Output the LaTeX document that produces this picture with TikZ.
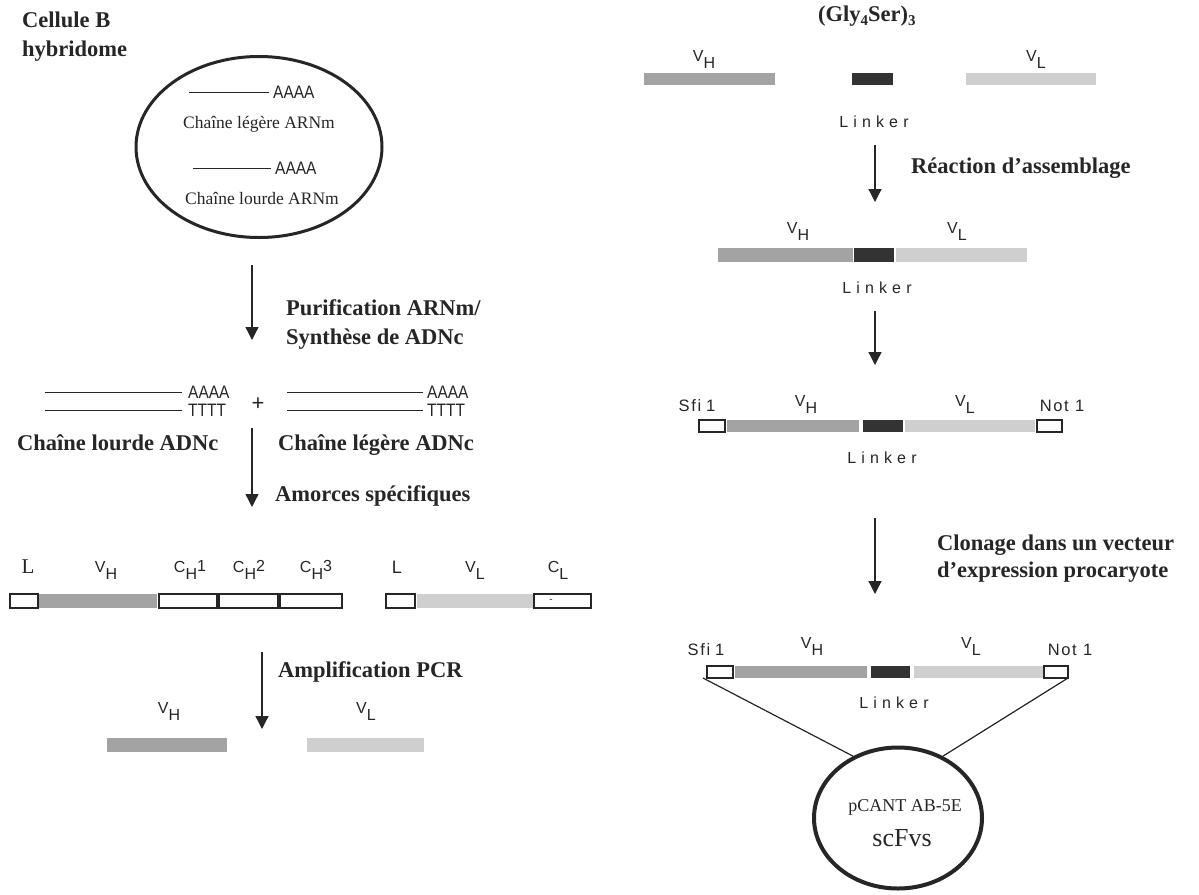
\documentclass[tikz,border=0pt]{standalone}
\usepackage{graphicx}
\usepackage{fontspec}
\setmainfont{Liberation Serif}
\setsansfont{Liberation Sans}
\usetikzlibrary{arrows.meta,shapes.geometric,fit}

\definecolor{vhg}{gray}{0.64}
\definecolor{vlg}{gray}{0.81}
\definecolor{lkg}{gray}{0.20}
\definecolor{ink}{gray}{0.15}

\newcommand\seg[6]{\node[#6,fit={(#2,#3) (#4,#5)},inner sep=0pt,outer sep=0pt] (#1) {};}
\newcommand\Vs[2]{#1\raisebox{-7pt}{#2}}
\newcommand\Cs[2]{C\raisebox{-7pt}{#1}\raisebox{1pt}{#2}}
\newcommand\nar[1]{\scalebox{0.86}[1]{#1}}

\tikzset{
  ttl/.style={font=\fontsize{22.5}{27}\selectfont\bfseries, inner sep=0pt, anchor=base west, text=ink},
  lbl/.style={font=\fontsize{16}{18}\selectfont\sffamily, inner sep=0pt, anchor=base, text=ink},
  ser/.style={font=\fontsize{17.5}{21}\selectfont, inner sep=0pt, anchor=base, text=ink},
  narrow/.style={font=\fontsize{18}{20}\selectfont\sffamily, inner sep=0pt, anchor=base west, text=ink},
  lnk/.style={font={\fontsize{16}{18}\selectfont\sffamily\addfontfeature{LetterSpace=32}}, inner sep=0pt, anchor=base, text=ink},
  site/.style={font={\fontsize{16.5}{18}\selectfont\sffamily\addfontfeature{LetterSpace=10}}, inner sep=0pt, anchor=base, text=ink},
  flow/.style={draw=ink, line width=1.3pt, -{Triangle[width=13pt,length=13pt]}},
  hbar/.style={fill=vhg},
  lbar/.style={fill=vlg},
  kbar/.style={fill=lkg},
  obox/.style={draw=ink, line width=1.2pt, fill=white},
  strand/.style={draw=ink, line width=1pt},
}

\begin{document}
\begin{tikzpicture}[x=1pt,y=-1pt]
\fill[white] (0,0) rectangle (1199,894);
\useasboundingbox (0,0) rectangle (1199,894);

% ---------------- left column ----------------
\node[ttl] (cb1) at (22,27.5) {Cellule B};
\node[ttl] (cb2) at (22,56.5) {hybridome};

\node[ellipse, draw=ink, line width=3pt, minimum width=246pt, minimum height=181pt, inner sep=0pt] (cell) at (259,147) {};
\node[narrow] (a1) at (273,98.5) {\nar{AAAA}};
\draw[strand] ([xshift=-4pt]a1.west) -- ++(-80,0);
\node[ser] (t1) at (259,128) {Chaîne légère ARNm};
\node[narrow] (a2) at (275,174.5) {\nar{AAAA}};
\draw[strand] ([xshift=-4pt]a2.west) -- ++(-78,0);
\node[ser] (t2) at (262,204) {Chaîne lourde ARNm};

\coordinate (p1s) at (252,265);
\coordinate (p1e) at (252,340);
\draw[flow] (p1s) -- (p1e);
\node[ttl] (lp1) at (286,315) {Purification ARNm/};
\node[ttl] (lp2) at (286,344) {Synthèse de ADNc};

% cDNA strands
\node[narrow] (ha) at (188,398.5) {\nar{AAAA}};
\node[narrow] (ht) at (188,416.5) {\nar{TTTT}};
\draw[strand] ([xshift=-6pt]ha.west) -- ++(-137,0);
\draw[strand] ([xshift=-6pt]ht.west) -- ++(-137,0);
\node[narrow] (la) at (427,398.5) {\nar{AAAA}};
\node[narrow] (lt) at (427,416.5) {\nar{TTTT}};
\draw[strand] ([xshift=-4pt]la.west) -- ++(-136,0);
\draw[strand] ([xshift=-4pt]lt.west) -- ++(-136,0);
\node[font=\fontsize{22}{22}\selectfont\sffamily, inner sep=0pt, text=ink] (plus) at (258,404) {+};
\node[ttl] (hc) at (17,450) {Chaîne lourde ADNc};
\node[ttl] (lc) at (278,450) {Chaîne légère ADNc};

\coordinate (p2s) at (252,428);
\coordinate (p2e) at (252,507);
\draw[flow] (p2s) -- (p2e);
\node[ttl] (lam) at (275,501) {Amorces spécifiques};

% gene segments
\seg{L1}{10}{594}{38}{608}{obox}
\seg{VH1}{39}{594}{157}{608}{hbar}
\seg{CH1}{159}{594}{217}{608}{obox}
\seg{CH2}{219}{594}{278}{608}{obox}
\seg{CH3}{280}{594}{342}{608}{obox}
\seg{L2}{386}{594}{415}{608}{obox}
\seg{VL1}{417}{594}{533}{608}{lbar}
\seg{CL}{534}{594}{591}{608}{obox}
\node[font=\fontsize{10}{10}\selectfont\sffamily, inner sep=0pt, text=ink] (cldash) at (551,601) {-};

\node[font=\fontsize{21}{24}\selectfont, inner sep=0pt, anchor=base, text=ink] (tL1) at (28,573) {L};
\node[lbl] (tVH1) at (106,572) {\Vs{V}{H}};
\node[lbl] (tC1) at (190,572) {\Cs{H}{1}};
\node[lbl] (tC2) at (249,572) {\Cs{H}{2}};
\node[lbl] (tC3) at (316,572) {\Cs{H}{3}};
\node[font=\fontsize{18}{20}\selectfont\sffamily, inner sep=0pt, anchor=base, text=ink] (tL2) at (397,573) {L};
\node[lbl] (tVL1) at (475,572) {\Vs{V}{L}};
\node[lbl] (tCL) at (558,572) {\Vs{C}{L}};

\coordinate (p3s) at (262,652);
\coordinate (p3e) at (262,729);
\draw[flow] (p3s) -- (p3e);
\node[ttl] (lpcr) at (278,677) {Amplification PCR};

\seg{VH2}{107}{738}{227}{752}{hbar}
\seg{VL2}{307}{738}{424}{752}{lbar}
\node[lbl] (tVH2) at (169,713) {\Vs{V}{H}};
\node[lbl] (tVL2) at (366,713) {\Vs{V}{L}};

% ---------------- right column ----------------
\node[ttl] (gly) at (818,21) {(Gly\raisebox{-4pt}{\fontsize{15}{15}\selectfont 4}Ser)\raisebox{-4pt}{\fontsize{15}{15}\selectfont 3}};

\seg{VHa}{644}{73}{775}{85}{hbar}
\seg{LKa}{852}{73}{893}{85}{kbar}
\seg{VLa}{966}{73}{1096}{85}{lbar}
\node[lbl] (tVHa) at (704,61) {\Vs{V}{H}};
\node[lbl] (tVLa) at (1036,61) {\Vs{V}{L}};
\node[lnk] (lka) at (874,127) {Linker};

\coordinate (p4s) at (875,145);
\coordinate (p4e) at (875,202);
\draw[flow] (p4s) -- (p4e);
\node[ttl] (lre) at (911,173) {Réaction d’assemblage};

\seg{VHb}{718}{248}{853}{262}{hbar}
\seg{LKb}{854}{248}{894}{262}{kbar}
\seg{VLb}{896}{248}{1027}{262}{lbar}
\node[lbl] (tVHb) at (798,233) {\Vs{V}{H}};
\node[lbl] (tVLb) at (957,233) {\Vs{V}{L}};
\node[lnk] (lkb) at (877,293) {Linker};

\coordinate (p5s) at (875,311);
\coordinate (p5e) at (875,365);
\draw[flow] (p5s) -- (p5e);

\seg{Sfic}{699}{420}{725}{432}{obox}
\seg{VHc}{727}{420}{859}{432}{hbar}
\seg{LKc}{863}{420}{903}{432}{kbar}
\seg{VLc}{905}{420}{1035}{432}{lbar}
\seg{Notc}{1037}{420}{1062}{432}{obox}
\node[site] (tSfic) at (697,411) {Sfi\hspace{5pt}1};
\node[lbl] (tVHc) at (806,406) {\Vs{V}{H}};
\node[lbl] (tVLc) at (965,406) {\Vs{V}{L}};
\node[site] (tNotc) at (1062,411) {Not 1};
\node[lnk] (lkc) at (882,463) {Linker};

\coordinate (p6s) at (875,518);
\coordinate (p6e) at (875,594);
\draw[flow] (p6s) -- (p6e);
\node[ttl] (lcl1) at (937,550) {Clonage dans un vecteur};
\node[ttl] (lcl2) at (937,577) {d’expression procaryote};

\seg{Sfid}{707}{666}{733}{678}{obox}
\seg{VHd}{735}{666}{867}{678}{hbar}
\seg{LKd}{871}{666}{910}{678}{kbar}
\seg{VLd}{914}{666}{1043}{678}{lbar}
\seg{Notd}{1044}{666}{1068}{678}{obox}
\node[site] (tSfid) at (706,655) {Sfi\hspace{5pt}1};
\node[lbl] (tVHd) at (812,648) {\Vs{V}{H}};
\node[lbl] (tVLd) at (971,648) {\Vs{V}{L}};
\node[site] (tNotd) at (1070,655) {Not 1};
\node[lnk] (lkd) at (894,708) {Linker};

\node[ellipse, draw=ink, line width=4pt, minimum width=168pt, minimum height=141pt, inner sep=0pt] (vec) at (898,818) {};
\node[font=\fontsize{18}{21}\selectfont, inner sep=0pt, anchor=base, text=ink] (vn1) at (905,811) {pCANT AB-5E};
\node[font=\fontsize{26}{30}\selectfont, inner sep=0pt, anchor=base, text=ink] (vn2) at (902,846) {scFvs};

\draw[strand, line width=1.2pt] ([xshift=-4pt]Sfid.south west) -- (vec.126);
\draw[strand, line width=1.2pt] (Notd.south east) -- (vec.54);
\end{tikzpicture}
\end{document}
